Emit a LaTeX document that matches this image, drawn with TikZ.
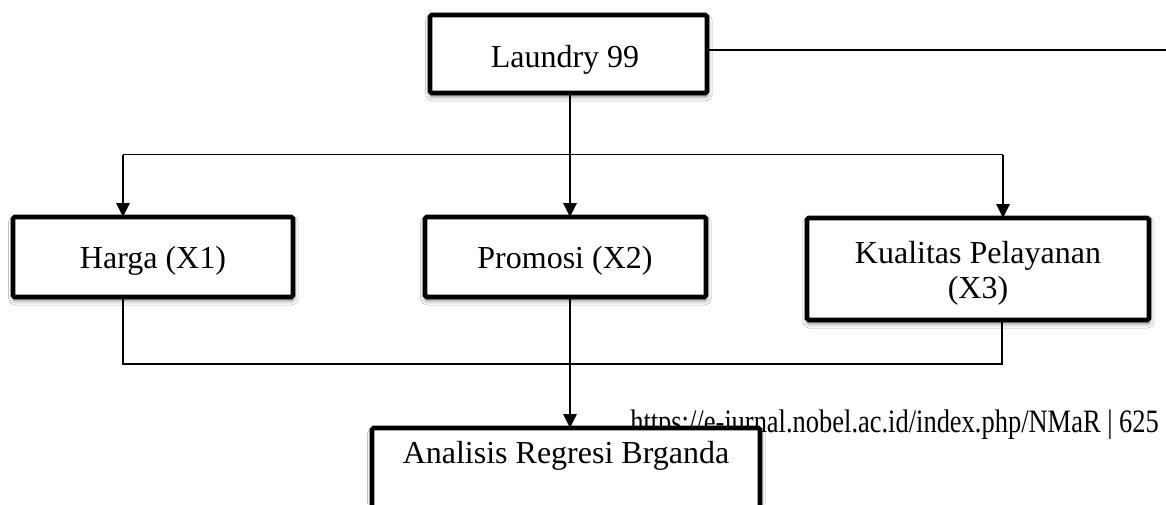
\documentclass[tikz,border=0pt]{standalone}
\usepackage{fontspec}
\usepackage{graphicx}
\setmainfont{Liberation Serif}
\usetikzlibrary{arrows.meta,shadows.blur}
\tikzset{
  boxnode/.style={draw=black, line width=3.5pt, fill=white, rounded corners=1.2pt,
    inner sep=0pt, outer sep=0pt,
    blur shadow={shadow xshift=0.3pt, shadow yshift=-2.5pt, shadow blur radius=3.5pt, shadow opacity=55}},
  txt/.style={inner sep=0pt, font=\fontsize{24}{26}\selectfont},
  conn/.style={line width=1.3pt, black},
  arr/.style={conn, -{Triangle[width=10pt,length=10.5pt]}}
}
\begin{document}
\begin{tikzpicture}[x=0.75pt,y=-0.75pt]
\useasboundingbox (0,0) rectangle (1166,504);
\clip (0,0) rectangle (1166,504);
\fill[white] (0,0) rectangle (1166,504);

% url text (under the bottom box)
\node[inner sep=0pt, anchor=base west, font=\fontsize{24.5}{26}\selectfont] (url) at (630,432)
  {\scalebox{0.81}[1]{https://e-jurnal.nobel.ac.id/index.php/NMaR | 625}};

% boxes
\node[boxnode, minimum width=277*0.75pt, minimum height=78*0.75pt] (laundry) at (568.5,54) {};
\node[boxnode, minimum width=280*0.75pt, minimum height=80*0.75pt] (harga) at (153,257) {};
\node[boxnode, minimum width=281*0.75pt, minimum height=80*0.75pt] (promosi) at (565.5,257) {};
\node[boxnode, minimum width=342*0.75pt, minimum height=102*0.75pt] (kualitas) at (978,269) {};
\node[boxnode, minimum width=388*0.75pt, minimum height=130*0.75pt] (analisis) at (566,493) {};

% texts
\node[txt, anchor=base] (laundryT) at (565,67) {Laundry 99};
\node[txt, anchor=base] (hargaT) at (153,268) {Harga (X1)};
\node[txt, anchor=base] (promosiT) at (565,268) {Promosi (X2)};
\node[txt, anchor=base] (kualitasA) at (978,263) {Kualitas Pelayanan};
\node[txt, anchor=base] (kualitasB) at (978,298) {(X3)};
\node[txt, anchor=base] (analisisT) at (566,463) {Analisis Regresi Brganda};

% helper coordinates
\coordinate (rightend) at (1166,50);
\coordinate (tl) at (123,154.5);
\coordinate (tr) at (1003,154.5);
\coordinate (bl) at (123,364);
\coordinate (br) at (1002,364);
\coordinate (mx) at (570,0);

% connectors
\draw[conn] (laundry.east |- rightend) -- (rightend);
\draw[conn] (tl) -- (tr);
\draw[arr] (tl) -- (tl |- harga.north);
\draw[arr] (tr) -- (tr |- kualitas.north);
\draw[arr] (laundry.south -| mx) -- (promosi.north -| mx);
\draw[conn] (harga.south -| bl) -- (bl) -- (br) -- (kualitas.south -| br);
\draw[arr] (promosi.south -| mx) -- (analisis.north -| mx);
\end{tikzpicture}
\end{document}
